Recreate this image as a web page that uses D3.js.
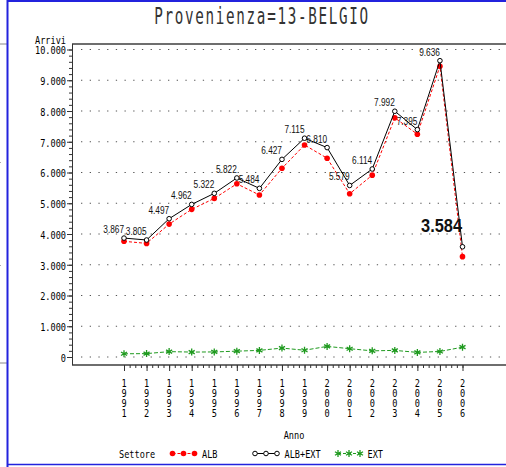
<!DOCTYPE html>
<html lang="it">

<head>
    <meta charset="utf-8">
    <script src="https://d3js.org/d3.v7.min.js"></script>
    <style>
        body { margin: 0; background: #fff; }
        svg { display: block; }
        .sas { font-family: "DejaVu Sans Mono", monospace; font-size: 11px; fill: #000; }
        .lbl { font-family: "Liberation Sans", Arial, sans-serif; font-size: 10px; fill: #111; }
    </style>
</head>

<body>
    <script>
        // data
        const years = [1991, 1992, 1993, 1994, 1995, 1996, 1997, 1998, 1999, 2000, 2001, 2002, 2003, 2004, 2005, 2006];
        const albExt = [3867, 3805, 4497, 4962, 5322, 5822, 5484, 6427, 7115, 6810, 5579, 6114, 7992, 7395, 9636, 3584];
        const alb = [3762, 3695, 4322, 4802, 5157, 5632, 5269, 6137, 6895, 6465, 5309, 5914, 7777, 7245, 9456, 3264];
        const ext = [105, 110, 175, 160, 165, 190, 215, 290, 220, 345, 270, 200, 215, 150, 180, 320];
        const yTicks = [0, 1000, 2000, 3000, 4000, 5000, 6000, 7000, 8000, 9000, 10000];
        const seriesNames = ['ALB', 'ALB+EXT', 'EXT'];

        const W = 506, H = 467;
        const plotLeft = 72, plotTop = 44, plotBottom = 365;
        const sx = 0.78; // squeeze for the narrow SAS font

        const it = d3.formatLocale({ decimal: ',', thousands: '.', grouping: [3], currency: ['', '€'] });
        const fmt = it.format(',d');

        const x = d3.scaleLinear().domain([1991, 2006]).range([124, 462.5]);
        const y = d3.scaleLinear().domain([0, 10000]).range([357, 49.5]);

        const svg = d3.select('body').append('svg')
            .attr('width', W)
            .attr('height', H);

        // bits of the neighbouring page on the left
        svg.append('line').attr('x1', 0).attr('x2', 7).attr('y1', 44).attr('y2', 44).attr('stroke', '#888');
        svg.append('line').attr('x1', 0).attr('x2', 7).attr('y1', 363).attr('y2', 363).attr('stroke', '#888');
        [162, 265].forEach(v => svg.append('rect').attr('x', 0).attr('y', v).attr('width', 1).attr('height', 1).attr('fill', '#aaa'));

        // blue page frame
        svg.append('line').attr('x1', 8).attr('x2', W).attr('y1', 1).attr('y2', 1).attr('stroke', '#2323dd').attr('stroke-width', 2);
        svg.append('line').attr('x1', 7.5).attr('x2', 7.5).attr('y1', 0).attr('y2', H).attr('stroke', '#2323dd').attr('stroke-width', 2);
        svg.append('line').attr('x1', 8).attr('x2', W).attr('y1', 464.5).attr('y2', 464.5).attr('stroke', '#2323dd').attr('stroke-width', 1.5);

        // title: thin, narrow, widely spaced
        svg.append('text')
            .attr('class', 'sas')
            .attr('transform', 'translate(262,24) scale(0.62,1)')
            .attr('text-anchor', 'middle')
            .style('font-size', '23px')
            .style('letter-spacing', '2.7px')
            .style('fill', '#333')
            .text('Provenienza=13-BELGIO');

        // grid
        svg.append('g').selectAll('line')
            .data(yTicks)
            .join('line')
            .attr('x1', 81).attr('x2', W)
            .attr('y1', d => y(d)).attr('y2', d => y(d))
            .attr('stroke', '#555')
            .attr('stroke-width', 1.2)
            .attr('stroke-dasharray', '1.3,7.4');

        // frame lines
        svg.append('line').attr('x1', plotLeft).attr('x2', W).attr('y1', plotTop).attr('y2', plotTop).attr('stroke', '#6e6e6e').attr('stroke-width', 2);
        svg.append('line').attr('x1', plotLeft).attr('x2', W).attr('y1', plotBottom).attr('y2', plotBottom).attr('stroke', '#6e6e6e').attr('stroke-width', 2);

        // y axis
        const yAxis = svg.append('g')
            .attr('transform', 'translate(' + plotLeft + ',0)')
            .call(d3.axisLeft(y).tickValues(yTicks).tickSize(5).tickFormat(fmt));
        svg.append('g')
            .attr('transform', 'translate(' + plotLeft + ',0)')
            .call(d3.axisLeft(y).tickValues(d3.range(0, 10001, 200)).tickSize(3).tickFormat(''))
            .call(g => g.select('.domain').remove())
            .selectAll('.tick line').attr('stroke', '#333');
        yAxis.select('.domain').attr('d', 'M0.5,' + plotTop + 'V' + plotBottom).attr('stroke', '#333');
        yAxis.selectAll('.tick line').attr('stroke', '#333');
        yAxis.selectAll('.tick text')
            .attr('class', 'sas')
            .attr('font-family', null).attr('font-size', null)
            .attr('x', -6 / sx)
            .attr('dy', '0.4em')
            .attr('transform', 'scale(' + sx + ',1)');
        svg.append('text')
            .attr('class', 'sas')
            .attr('transform', 'translate(' + (plotLeft - 6) + ',44) scale(' + sx + ',1)')
            .attr('text-anchor', 'end')
            .text('Arrivi');

        // x axis
        const xAxis = svg.append('g')
            .attr('transform', 'translate(0,' + plotBottom + ')')
            .call(d3.axisBottom(x).tickValues(years).tickSize(6).tickFormat(''));
        xAxis.select('.domain').remove();
        xAxis.selectAll('.tick line').attr('stroke', '#333');
        svg.append('g')
            .attr('transform', 'translate(0,' + plotBottom + ')')
            .call(d3.axisBottom(x).tickValues(d3.range(1991, 2006.01, 0.25)).tickSize(3).tickFormat(''))
            .call(g => g.select('.domain').remove())
            .selectAll('.tick line').attr('stroke', '#333');

        // vertical year labels, one digit per row
        const yearLbl = svg.append('g').selectAll('text')
            .data(years)
            .join('text')
            .attr('class', 'sas')
            .attr('text-anchor', 'middle')
            .attr('transform', d => 'translate(' + x(d) + ',387) scale(' + sx + ',1)');
        yearLbl.selectAll('tspan')
            .data(d => String(d).split(''))
            .join('tspan')
            .attr('x', 0)
            .attr('dy', (d, i) => i === 0 ? 0 : 10.1)
            .text(d => d);

        svg.append('text')
            .attr('class', 'sas')
            .attr('text-anchor', 'middle')
            .attr('transform', 'translate(294,438.5) scale(' + sx + ',1)')
            .text('Anno');

        // series
        const line = d3.line().x((d, i) => x(years[i])).y(d => y(d));
        const star = d3.symbol().type(d3.symbolAsterisk).size(34);
        const green = '#1f9a1f';

        svg.append('path').datum(ext)
            .attr('d', line).attr('fill', 'none')
            .attr('stroke', green).attr('stroke-width', 1).attr('stroke-dasharray', '4,2');
        svg.append('g').selectAll('path')
            .data(ext)
            .join('path')
            .attr('transform', (d, i) => 'translate(' + x(years[i]) + ',' + y(d) + ')')
            .attr('d', star)
            .attr('fill', 'none').attr('stroke', green).attr('stroke-width', 1.3);

        svg.append('path').datum(alb)
            .attr('d', line).attr('fill', 'none')
            .attr('stroke', '#ff0000').attr('stroke-width', 1).attr('stroke-dasharray', '3,2');
        svg.append('g').selectAll('circle')
            .data(alb)
            .join('circle')
            .attr('cx', (d, i) => x(years[i]))
            .attr('cy', d => y(d))
            .attr('r', 2.8)
            .attr('fill', '#ff0000');

        svg.append('path').datum(albExt)
            .attr('d', line).attr('fill', 'none')
            .attr('stroke', '#000').attr('stroke-width', 1);
        svg.append('g').selectAll('circle')
            .data(albExt)
            .join('circle')
            .attr('cx', (d, i) => x(years[i]))
            .attr('cy', d => y(d))
            .attr('r', 2.3)
            .attr('fill', '#fff')
            .attr('stroke', '#000')
            .attr('stroke-width', 1);

        // value labels, the last one big
        const last = albExt.length - 1;
        svg.append('g').selectAll('text')
            .data(albExt.slice(0, last))
            .join('text')
            .attr('class', 'lbl')
            .attr('text-anchor', 'end')
            .attr('transform', (d, i) => 'translate(' + x(years[i]) + ',' + (y(d) - 5) + ') scale(0.83,1)')
            .text(fmt);
        svg.append('text')
            .attr('class', 'lbl')
            .attr('text-anchor', 'end')
            .style('font-size', '18px')
            .style('font-weight', 'bold')
            .attr('transform', 'translate(' + (x(years[last]) - 0.5) + ',' + (y(albExt[last]) - 14.5) + ') scale(0.91,1)')
            .text(fmt(albExt[last]));

        // legend
        const legend = svg.append('g').attr('transform', 'translate(0,457.5)');
        legend.append('text')
            .attr('class', 'sas')
            .attr('transform', 'translate(119,0) scale(' + sx + ',1)')
            .text('Settore');
        const legX = [172.5, 255, 338];
        seriesNames.forEach((name, k) => {
            const g = legend.append('g').attr('transform', 'translate(' + legX[k] + ',-4)');
            const dots = [0, 11, 22];
            g.append('line').attr('x1', 0).attr('x2', 22)
                .attr('stroke', k === 0 ? '#ff0000' : k === 1 ? '#000' : green)
                .attr('stroke-dasharray', k === 1 ? null : '3,2');
            dots.forEach(dx => {
                if (k === 0) {
                    g.append('circle').attr('cx', dx).attr('r', 2.8).attr('fill', '#ff0000');
                } else if (k === 1) {
                    g.append('circle').attr('cx', dx).attr('r', 2.3).attr('fill', '#fff').attr('stroke', '#000');
                } else {
                    g.append('path').attr('transform', 'translate(' + dx + ',0)').attr('d', star)
                        .attr('fill', 'none').attr('stroke', green).attr('stroke-width', 1.3);
                }
            });
            legend.append('text')
                .attr('class', 'sas')
                .attr('transform', 'translate(' + (legX[k] + 29.5) + ',0) scale(' + sx + ',1)')
                .text(name);
        });
    </script>
</body>

</html>
